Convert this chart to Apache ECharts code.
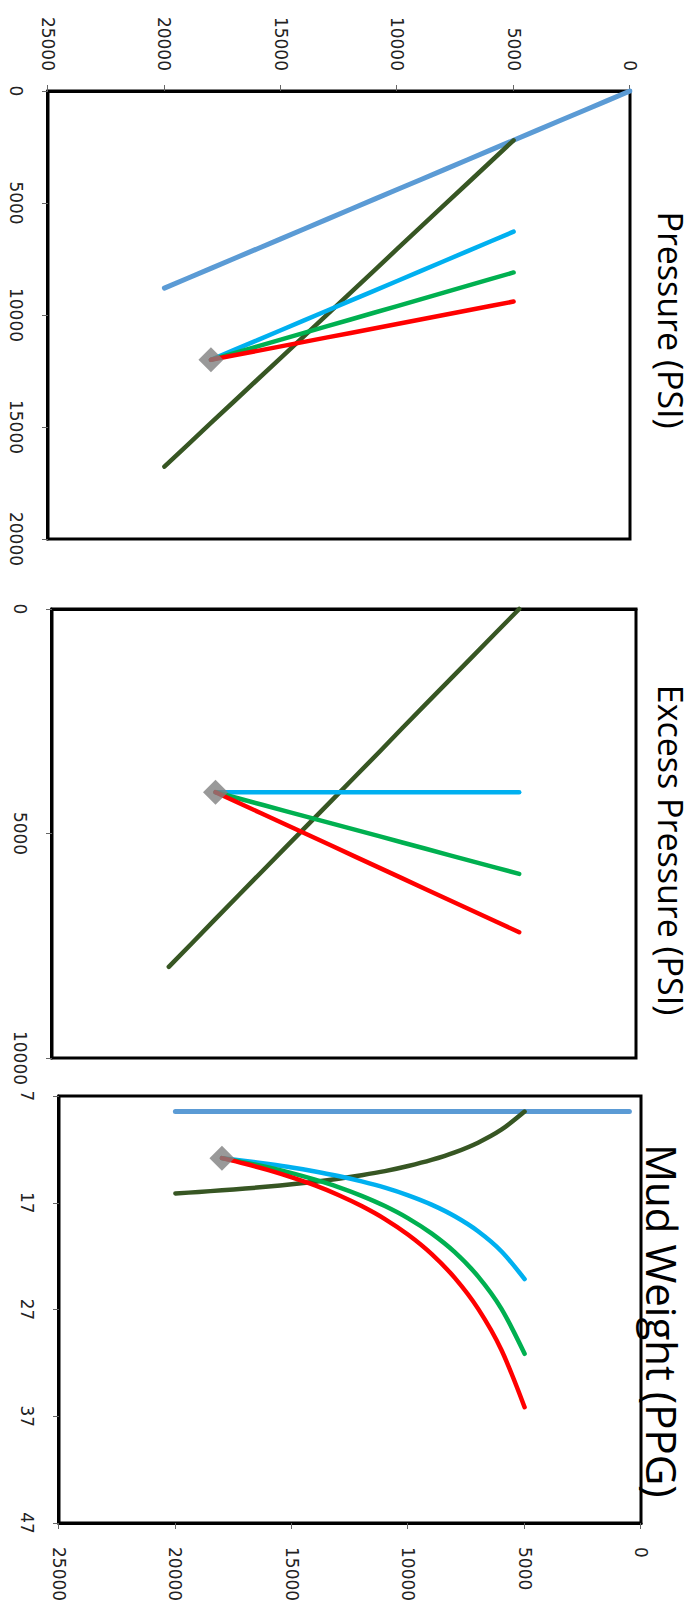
<!DOCTYPE html>
<html><head><meta charset="utf-8">
<script src="https://cdn.jsdelivr.net/npm/echarts@6.0.0/dist/echarts.min.js"></script>
<style>
html,body{margin:0;padding:0;width:695px;height:1615px;overflow:hidden;background:#fff;}
#rot{position:absolute;left:0;top:0;width:1615px;height:695px;transform-origin:0 0;transform:translate(695px,0) rotate(90deg);}
</style></head><body>
<div id="rot"></div>
<script>
// ---- data (depth in ft, pressure in psi, mud weight in ppg) ----
const titles = ['Pressure (PSI)', 'Excess Pressure (PSI)', 'Mud Weight (PPG)'];
const depthTicks = [0, 5000, 10000, 15000, 20000, 25000];
const pressureTicks = [0, 5000, 10000, 15000, 20000];
const excessTicks = [0, 5000, 10000];
const mwTicks = [7, 17, 27, 37, 47];

const hydroDepth = [0,1000,2000,3000,4000,5000,6000,7000,8000,9000,10000,11000,12000,13000,14000,15000,16000,17000,18000,19000,20000];
const hydroPressure = [0,440,880,1320,1760,2200,2640,3080,3520,3960,4400,4840,5280,5720,6160,6600,7040,7480,7920,8360,8800];
const hydroMWDepth = [500, 5000, 10000, 15000, 20000];
const hydroMW = [8.46, 8.46, 8.46, 8.46, 8.46];

const overDepth = [5000,6000,7000,8000,9000,10000,11000,12000,13000,14000,15000,16000,17000,18000,19000,20000];
const overPressure = [2200,3170,4140,5110,6080,7050,8030,9000,9970,10940,11910,12880,13850,14820,15800,16770];
const overExcess = [0,530,1060,1590,2120,2650,3190,3720,4250,4780,5310,5840,6370,6900,7440,7970];
const overMW = [8.46,10.16,11.37,12.28,12.99,13.56,14.04,14.42,14.75,15.03,15.27,15.48,15.67,15.83,15.99,16.13];

const fluidDepth = [5000,6000,7000,8000,9000,10000,11000,12000,13000,14000,15000,16000,17000,18000];
const waterPressure = [6280,6720,7160,7600,8040,8480,8920,9360,9800,10240,10680,11120,11560,12000];
const oilPressure = [8100,8400,8700,9000,9300,9600,9900,10200,10500,10800,11100,11400,11700,12000];
const gasPressure = [9400,9600,9800,10000,10200,10400,10600,10800,11000,11200,11400,11600,11800,12000];
const waterExcess = [4080,4080,4080,4080,4080,4080,4080,4080,4080,4080,4080,4080,4080,4080];
const oilExcess = [5900,5760,5620,5480,5340,5200,5060,4920,4780,4640,4500,4360,4220,4080];
const gasExcess = [7200,6960,6720,6480,6240,6000,5760,5520,5280,5040,4800,4560,4320,4080];
const waterMW = [24.15,21.54,19.67,18.27,17.18,16.31,15.59,15.00,14.50,14.07,13.69,13.37,13.08,12.82];
const oilMW = [31.15,26.92,23.90,21.63,19.87,18.46,17.31,16.35,15.53,14.84,14.23,13.70,13.24,12.82];
const gasMW = [36.15,30.77,26.92,24.04,21.79,20.00,18.53,17.31,16.27,15.38,14.62,13.94,13.35,12.82];

const resDepth = [18000];
const resPressure = [12000];
const resExcess = [4080];
const resMW = [12.82];

// ---- chart ----
const C = {hydro:'#5B9BD5', over:'#375623', water:'#00B0F0', oil:'#00B050', gas:'#FF0000', res:'#7F7F7F'};
const pairs = (xs, ys) => ys.map((y, i) => [xs[i], y]);
const chart = echarts.init(document.getElementById('rot'), null, {renderer:'svg', width:1615, height:695});

const lab = {fontFamily:'DejaVu Sans', fontSize:17, color:'#222', formatter:(v) => String(v)};
function xAx(gi, min, max, ticks, margin){
  return {type:'value', gridIndex:gi, min:min, max:max, position:'bottom',
    axisLine:{show:true, onZero:false, lineStyle:{color:'#000', width:3}},
    axisTick:{show:true, length:6, customValues:ticks, lineStyle:{color:'#666', width:1}},
    axisLabel:Object.assign({customValues:ticks, margin:margin, showMinLabel:true, showMaxLabel:true}, lab),
    splitLine:{show:false}};
}
function yAx(gi, pos, showLab, margin){
  return {type:'value', gridIndex:gi, min:0, max:25000, inverse:true, position:pos,
    axisLine:{show:true, onZero:false, lineStyle:{color:'#000', width:3}},
    axisTick:{show:showLab, length:6, customValues:depthTicks, lineStyle:{color:'#666', width:1}},
    axisLabel:Object.assign({show:showLab, customValues:depthTicks, margin:margin, showMinLabel:true, showMaxLabel:true}, lab),
    splitLine:{show:false}};
}
function line(gi, data, color, w, smooth){
  return {type:'line', xAxisIndex:gi, yAxisIndex:gi, data:data, showSymbol:false, symbol:'none',
    smooth:smooth||false, lineStyle:{color:color, width:w, cap:'round', join:'round'}, silent:true, animation:false};
}
function res(gi, data){
  return {type:'scatter', xAxisIndex:gi, yAxisIndex:gi, data:data, symbol:'diamond', symbolSize:25,
    itemStyle:{color:C.res}, z:10, silent:true, animation:false};
}

const option = {
  animation:false,
  title:[
    {text:titles[0], left:315, top:2, textAlign:'center', textStyle:{fontFamily:'Open Sans', fontWeight:'normal', fontSize:34, color:'#000'}},
    {text:titles[1], left:845, top:2, textAlign:'center', textStyle:{fontFamily:'Open Sans', fontWeight:'normal', fontSize:34, color:'#000'}},
    {text:titles[2], left:1316, top:7, textAlign:'center', textStyle:{fontFamily:'Open Sans', fontWeight:'normal', fontSize:42, color:'#000'}}
  ],
  grid:[
    {left:91, top:65, width:448, height:582, show:true, borderColor:'#000', borderWidth:3, backgroundColor:'#fff'},
    {left:609, top:59, width:449, height:584, show:true, borderColor:'#000', borderWidth:3, backgroundColor:'#fff'},
    {left:1096, top:54, width:427, height:582, show:true, borderColor:'#000', borderWidth:3, backgroundColor:'#fff'}
  ],
  xAxis:[
    xAx(0, 0, 20000, pressureTicks, 24),
    xAx(1, 0, 10000, excessTicks, 24),
    xAx(2, 7, 47, mwTicks, 24)
  ],
  yAxis:[
    yAx(0, 'left', true, 20),
    yAx(1, 'left', false, 20),
    yAx(2, 'right', true, 24)
  ],
  series:[
    line(0, pairs(hydroPressure, hydroDepth), C.hydro, 5),
    line(0, pairs(overPressure, overDepth), C.over, 4.5),
    line(0, pairs(waterPressure, fluidDepth), C.water, 4.5),
    line(0, pairs(oilPressure, fluidDepth), C.oil, 4.5),
    line(0, pairs(gasPressure, fluidDepth), C.gas, 4.5),
    res(0, pairs(resPressure, resDepth)),

    line(1, pairs(overExcess, overDepth), C.over, 4.5),
    line(1, pairs(waterExcess, fluidDepth), C.water, 4.5),
    line(1, pairs(oilExcess, fluidDepth), C.oil, 4.5),
    line(1, pairs(gasExcess, fluidDepth), C.gas, 4.5),
    res(1, pairs(resExcess, resDepth)),

    line(2, pairs(hydroMW, hydroMWDepth), C.hydro, 5),
    line(2, pairs(overMW, overDepth), C.over, 4.5, 0.3),
    line(2, pairs(waterMW, fluidDepth), C.water, 4.5, 0.3),
    line(2, pairs(oilMW, fluidDepth), C.oil, 4.5, 0.3),
    line(2, pairs(gasMW, fluidDepth), C.gas, 4.5, 0.3),
    res(2, pairs(resMW, resDepth))
  ]
};
chart.setOption(option);
</script>
</body></html>
